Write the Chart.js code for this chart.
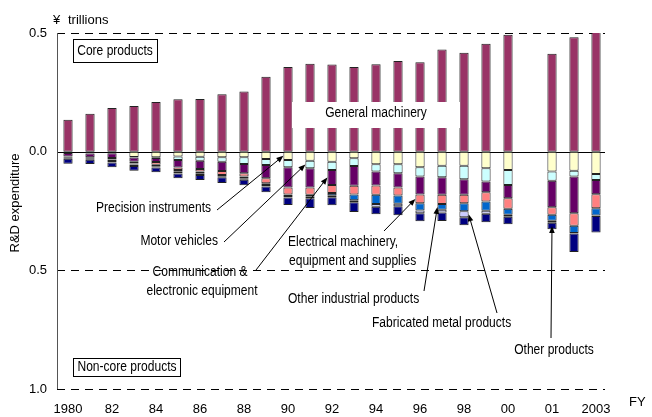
<!DOCTYPE html>
<html>
<head>
<meta charset="utf-8">
<script src="https://cdn.jsdelivr.net/npm/chart.js@4/dist/chart.umd.min.js"></script>
<style>
  html, body { margin: 0; padding: 0; background: #fff; }
  canvas { display: block; }
</style>
</head>
<body>
<canvas id="rdChart" width="652" height="417"></canvas>
<script>
/* ================= DATA ================= */
// 25 slots: FY1980-2000, one empty slot, FY2001-2003 (¥ trillions)
const years = ['1980','81','82','83','84','85','86','87','88','89','90','91','92','93','94','95','96','97','98','99','00','','01','02','2003'];
const tickLabels = ['1980','','82','','84','','86','','88','','90','','92','','94','','96','','98','','00','','01','','2003'];
const yTicks = [0.5, 0, -0.5, -1.0];

// core product (above zero)
const generalMachinery = [0.134,0.160,0.184,0.192,0.209,0.221,0.222,0.242,0.253,0.316,0.357,0.370,0.367,0.357,0.368,0.382,0.377,0.431,0.417,0.455,0.493,null,0.413,0.482,0.508];

// non-core products (drawn below zero, from the zero line down)
const precisionInstruments = [0.002,0.002,0.003,0.022,0.024,0.020,0.021,0.024,0.024,0.031,0.035,0.038,0.042,0.028,0.053,0.053,0.066,0.059,0.059,0.070,0.077,null,0.084,0.080,0.094];
const motorVehicles = [0.004,0.006,0.004,0.003,0.003,0.015,0.017,0.018,0.028,0.025,0.031,0.032,0.035,0.032,0.031,0.038,0.039,0.049,0.057,0.056,0.063,null,0.039,0.025,0.025];
const commElectronic = [0.014,0.015,0.020,0.017,0.017,0.032,0.035,0.039,0.039,0.056,0.085,0.081,0.063,0.084,0.059,0.060,0.076,0.074,0.066,0.045,0.056,null,0.111,0.154,0.060];
const electricalMachinery = [0.004,0.004,0.006,0.008,0.011,0.010,0.011,0.017,0.014,0.021,0.029,0.031,0.034,0.036,0.039,0.034,0.036,0.039,0.035,0.039,0.045,null,0.032,0.053,0.059];
const otherIndustrial = [0.003,0.003,0.006,0.004,0.006,0.008,0.007,0.006,0.007,0.007,0.007,0.008,0.010,0.025,0.039,0.034,0.031,0.024,0.034,0.039,0.025,null,0.025,0.031,0.031];
const fabricatedMetal = [0.003,0.004,0.007,0.006,0.006,0.007,0.007,0.004,0.006,0.007,0.006,0.006,0.008,0.008,0.011,0.011,0.011,0.011,0.025,0.013,0.008,null,0.008,0.002,0.002];
const otherProducts = [0.021,0.018,0.020,0.020,0.020,0.020,0.021,0.024,0.024,0.024,0.032,0.041,0.034,0.041,0.032,0.038,0.034,0.036,0.034,0.035,0.032,null,0.028,0.078,0.070];

const below = arr => arr.map(v => v == null ? null : -v);

const FONT = '"Liberation Sans", Arial, sans-serif';

function bar(label, data, color) {
    return {
        label: label,
        data: data,
        backgroundColor: color,
        borderColor: '#222',
        borderWidth: 1,
        borderSkipped: false,
        barPercentage: 0.42,
        categoryPercentage: 1.0
    };
}

/* ================= HELPERS ================= */
function txt(ctx, s, x, y, align) {
    ctx.save();
    ctx.translate(x, y);
    ctx.scale(0.86, 1);
    ctx.textAlign = align || 'left';
    ctx.textBaseline = 'middle';
    ctx.fillText(s, 0, 0);
    ctx.restore();
}

function arrow(ctx, x1, y1, x2, y2) {
    const a = Math.atan2(y2 - y1, x2 - x1);
    ctx.beginPath();
    ctx.moveTo(x1, y1);
    ctx.lineTo(x2 - 5 * Math.cos(a), y2 - 5 * Math.sin(a));
    ctx.stroke();
    ctx.beginPath();
    ctx.moveTo(x2, y2);
    ctx.lineTo(x2 - 7 * Math.cos(a) + 2.8 * Math.sin(a), y2 - 7 * Math.sin(a) - 2.8 * Math.cos(a));
    ctx.lineTo(x2 - 7 * Math.cos(a) - 2.8 * Math.sin(a), y2 - 7 * Math.sin(a) + 2.8 * Math.cos(a));
    ctx.closePath();
    ctx.fill();
}

// point on a bar segment: side = 'l', 'r' or 'b' (centre)
function segPoint(chart, ds, i, side) {
    const el = chart.getDatasetMeta(ds).data[i];
    const mid = (el.y + el.base) / 2;
    if (side === 'l') return [el.x - el.width / 2, mid];
    if (side === 'r') return [el.x + el.width / 2, mid];
    return [el.x, mid];
}

/* ================= PLUGINS ================= */
const gridPlugin = {
    id: 'gridLines',
    beforeDatasetsDraw(chart) {
        const ctx = chart.ctx, a = chart.chartArea, y = chart.scales.y;
        ctx.save();
        ctx.strokeStyle = '#000';
        ctx.lineWidth = 1;
        ctx.setLineDash([8, 6]);
        [0.5, -0.5, -1.0].forEach(v => {
            const py = Math.round(y.getPixelForValue(v)) + 0.5;
            ctx.beginPath();
            ctx.moveTo(a.left, py);
            ctx.lineTo(a.right - 2, py);
            ctx.stroke();
        });
        ctx.setLineDash([]);
        const z = Math.round(y.getPixelForValue(0)) + 0.5;
        ctx.beginPath();
        ctx.moveTo(a.left, z);
        ctx.lineTo(a.right - 2, z);
        ctx.stroke();
        ctx.strokeStyle = '#555';
        ctx.beginPath();
        ctx.moveTo(a.left + 0.5, y.getPixelForValue(0.5));
        ctx.lineTo(a.left + 0.5, y.getPixelForValue(-1.0));
        ctx.stroke();
        ctx.restore();
    }
};

const notesPlugin = {
    id: 'notes',
    afterDatasetsDraw(chart) {
        const ctx = chart.ctx;
        ctx.save();
        ctx.fillStyle = '#000';
        ctx.strokeStyle = '#000';
        ctx.lineWidth = 1;
        ctx.font = '14px ' + FONT;

        // General machinery label box covering the bars
        ctx.fillStyle = '#fff';
        ctx.fillRect(292, 102, 168, 26);
        ctx.fillStyle = '#000';
        txt(ctx, 'General machinery', 376, 113, 'center');

        // Core / Non-core boxes
        ctx.fillStyle = '#fff';
        ctx.fillRect(73, 39, 84, 23);
        ctx.fillRect(73, 358, 107, 18);
        ctx.strokeRect(73.5, 39.5, 84, 23);
        ctx.strokeRect(73.5, 358.5, 107, 18);
        ctx.fillStyle = '#000';
        txt(ctx, 'Core products', 115, 51, 'center');
        txt(ctx, 'Non-core products', 127, 367, 'center');

        // series labels with arrows
        txt(ctx, 'Precision instruments', 211, 208, 'right');
        arrow(ctx, 217, 210, ...segPoint(chart, 1, 10, 'l'));

        txt(ctx, 'Motor vehicles', 218, 241, 'right');
        arrow(ctx, 224, 242, ...segPoint(chart, 2, 11, 'l'));

        txt(ctx, 'Communication &', 200, 272, 'center');
        txt(ctx, 'electronic equipment', 202, 291, 'center');
        arrow(ctx, 256, 270, ...segPoint(chart, 3, 12, 'l'));

        txt(ctx, 'Electrical machinery,', 288, 242, 'left');
        txt(ctx, 'equipment and supplies', 289, 261, 'left');
        arrow(ctx, 384, 231, ...segPoint(chart, 4, 16, 'l'));

        txt(ctx, 'Other industrial products', 288, 299, 'left');
        arrow(ctx, 424, 291, ...segPoint(chart, 5, 17, 'l'));

        txt(ctx, 'Fabricated metal products', 372, 323, 'left');
        arrow(ctx, 497, 313, ...segPoint(chart, 6, 18, 'r'));

        txt(ctx, 'Other products', 554, 350, 'center');
        arrow(ctx, 551, 338, ...segPoint(chart, 7, 22, 'b'));

        // axis texts
        ctx.font = '13px ' + FONT;
        ctx.textAlign = 'left';
        ctx.textBaseline = 'middle';
        ctx.fillText('\u00a5', 53, 20);
        ctx.fillText('trillions', 68, 20);
        ctx.fillText('FY', 629, 402);
        ctx.save();
        ctx.translate(15, 203);
        ctx.rotate(-Math.PI / 2);
        ctx.textAlign = 'center';
        ctx.fillText('R&D expenditure', 0, 0);
        ctx.restore();
        ctx.restore();
    }
};

/* ================= CHART ================= */
new Chart(document.getElementById('rdChart'), {
    type: 'bar',
    data: {
        labels: years,
        datasets: [
            bar('General machinery', generalMachinery, '#993366'),
            bar('Precision instruments', below(precisionInstruments), '#FFFFCC'),
            bar('Motor vehicles', below(motorVehicles), '#CCFFFF'),
            bar('Communication & electronic equipment', below(commElectronic), '#660066'),
            bar('Electrical machinery, equipment and supplies', below(electricalMachinery), '#FF8080'),
            bar('Other industrial products', below(otherIndustrial), '#0066CC'),
            bar('Fabricated metal products', below(fabricatedMetal), '#CCCCFF'),
            bar('Other products', below(otherProducts), '#000080')
        ]
    },
    options: {
        responsive: false,
        animation: false,
        layout: { padding: { top: 33, right: 45, left: 0, bottom: 0 } },
        plugins: {
            legend: { display: false },
            tooltip: { enabled: false }
        },
        scales: {
            x: {
                stacked: true,
                grid: { display: false },
                border: { display: false },
                ticks: {
                    color: '#000',
                    font: { size: 13, family: FONT },
                    autoSkip: false,
                    maxRotation: 0,
                    padding: 5,
                    callback: (v, i) => tickLabels[i]
                },
                afterFit: s => { s.height = 28; }
            },
            y: {
                stacked: true,
                min: -1.0,
                max: 0.5,
                grid: { display: false },
                border: { display: false },
                afterBuildTicks: s => { s.ticks = yTicks.map(v => ({ value: v })); },
                ticks: {
                    color: '#000',
                    font: { size: 13, family: FONT },
                    padding: 2,
                    callback: v => Math.abs(v).toFixed(1)
                },
                afterFit: s => { s.width = 57; }
            }
        }
    },
    plugins: [gridPlugin, notesPlugin]
});
</script>
</body>
</html>
